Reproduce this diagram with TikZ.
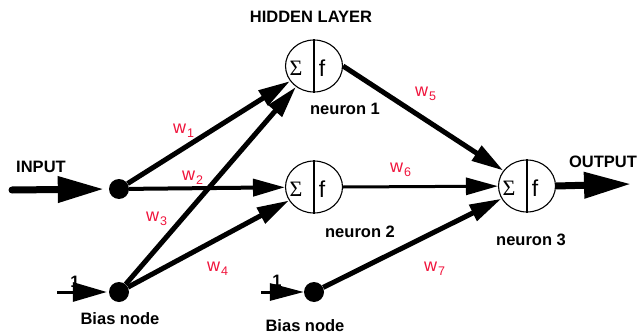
\documentclass[tikz,border=0pt]{standalone}
\usepackage{fontspec}
\setmainfont{Liberation Sans}
\newfontfamily\sigmafont{Liberation Serif}
\usetikzlibrary{arrows.meta,shapes.geometric}
\definecolor{wred}{RGB}{240,20,60}

\begin{document}
\begin{tikzpicture}[x=1pt, y=-1pt, >={Triangle[length=32pt, width=17pt]},
  title/.style={font=\fontsize{16.5}{18}\selectfont\bfseries, inner sep=0pt},
  wlabel/.style={font=\fontsize{18}{20}\selectfont, text=wred, anchor=base west, inner sep=0pt},
  dot/.style={circle, fill, minimum size=20pt, inner sep=0pt},
  neuron/.style={ellipse, draw, line width=1.1pt, minimum width=57pt, minimum height=52pt, inner sep=0pt},
  link/.style={->, line width=5pt}]
  \useasboundingbox (0,0) rectangle (639,334);
  % neurons with sum and activation halves
  \foreach \n/\x/\y in {n1/314/66, n2/314/187, n3/527/186} {
    \node[neuron] (\n) at (\x,\y) {};
    \draw[line width=1.1pt] (\n.north) -- (\n.south);
    \node[font=\sigmafont\fontsize{22}{22}\selectfont] at ([xshift=-18pt, yshift=-2pt]\n.center) {Σ};
    \node[font=\fontsize{23}{23}\selectfont] at ([xshift=8pt, yshift=-2pt]\n.center) {f};
  }
  % input and bias nodes
  \node[dot] (inp) at (119,189) {};
  \node[dot] (bias1) at (119,292) {};
  \node[dot] (bias2) at (314,292) {};
  \coordinate (inStart) at (12,190);
  \coordinate (outEnd) at (631,184);
  \coordinate (b1Start) at (57,292);
  \coordinate (b2Start) at (261,292);
  % texts
  \node[title] (hidden) at (311,17) {HIDDEN LAYER};
  \node[title] (input) at (41,167) {INPUT};
  \node[title] (output) at (603,162) {OUTPUT};
  \node[title] (lab1) at (345,109) {neuron 1};
  \node[title] (lab2) at (360,232) {neuron 2};
  \node[title] (lab3) at (531,240) {neuron 3};
  \node[title] (blab1) at (120,319) {Bias node};
  \node[title] (blab2) at (305,326) {Bias node};
  \node[title] (one1) at (75,282) {1};
  \node[title] (one2) at (277,281) {1};
  % weights
  \foreach \i/\x/\y in {1/173/133, 2/182/180, 3/146/221, 4/207/271, 5/415/96, 6/390/172, 7/424/271}
    \node[wlabel] (w\i) at (\x,\y) {w\kern1pt\raisebox{-4.5pt}{\fontsize{12.5}{13}\selectfont\i}};
  % big arrows
  \draw[line width=7pt, line cap=round, -{Triangle[length=46pt, width=25pt]}, shorten >=5pt] (inStart) -- (inp.west);
  \draw[line width=7pt, -{Triangle[length=47pt, width=25pt]}] (n3.east) -- (outEnd);
  \draw[line width=3pt, -{Triangle[length=34pt, width=19pt]}, shorten >=2pt] (b1Start) -- (bias1.west);
  \draw[line width=3pt, -{Triangle[length=34pt, width=17pt]}] (b2Start) -- (bias2.west);
  % weighted connections
  \draw[link] (inp) -- (n1);
  \draw[link, line width=4pt] (inp) -- (n2);
  \draw[link] (bias1) -- (n1);
  \draw[link] (bias1) -- (n2);
  \draw[link] (n1.east) -- (n3);
  \draw[link, line width=3pt] (n2.east) -- (n3);
  \draw[link] (bias2) -- (n3);
\end{tikzpicture}
\end{document}
